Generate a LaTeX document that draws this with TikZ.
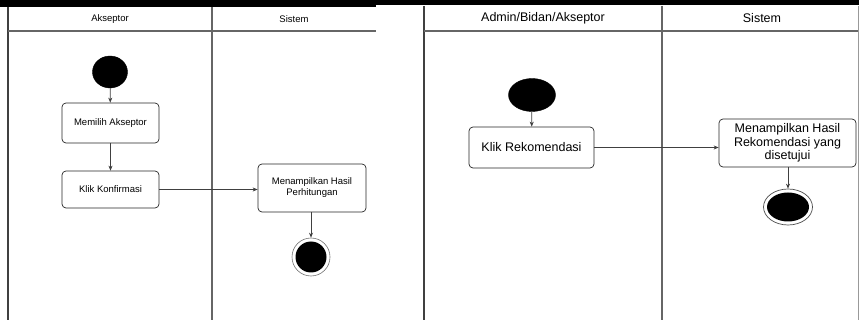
\documentclass[tikz,border=0pt]{standalone}
\usepackage{fontspec}
\setmainfont{Liberation Sans}
\usetikzlibrary{arrows.meta,shapes.geometric}
\begin{document}
\begin{tikzpicture}[x=1pt,y=-1pt,
  frame/.style={draw=black!75,line width=1.3pt},
  lane/.style={draw=black!60,line width=1.2pt},
  actbox/.style={draw=black!85,rounded corners=4pt,line width=0.7pt,align=center,inner sep=0pt},
  startdot/.style={ellipse,fill=black,draw=black,inner sep=0pt},
  flow/.style={draw=black!75,line width=0.7pt,-{Stealth[length=5pt,width=4pt]}},
  lefttxt/.style={font=\fontsize{9.5}{11}\selectfont},
  righttxt/.style={font=\fontsize{12.5}{13.5}\selectfont},
]
\useasboundingbox (0,0) rectangle (859,320);
\fill[white] (0,0) rectangle (859,320);
\fill[black] (0,0) rectangle (859,5.5);
\fill[black] (0,0) rectangle (376,7);
% left swimlane frame
\draw[frame] (8,7) -- (8,320);
\draw[lane] (8,31) -- (376,31);
\draw[lane] (212,7) -- (212,320);
\node[lefttxt] (hA) at (110,19) {Akseptor};
\node[lefttxt] (hS) at (294,19) {Sistem};
% right swimlane frame
\draw[frame] (424,6) -- (424,320);
\draw[lane] (424,31) -- (859,31);
\draw[lane] (662,6) -- (662,320);
\draw[draw=black!40,line width=0.8pt] (858,6) -- (858,320);
\node[righttxt] (hB) at (543,18) {Admin/Bidan/Akseptor};
\node[righttxt] (hS2) at (762,18) {Sistem};
% left diagram
\node[startdot,minimum width=35pt,minimum height=32pt] (s1) at (110,72) {};
\node[actbox,lefttxt,minimum width=97pt,minimum height=40pt] (a1) at (110.5,123) {Memilih Akseptor};
\node[actbox,lefttxt,minimum width=97pt,minimum height=37pt] (a2) at (110.5,189.5) {Klik Konfirmasi};
\node[actbox,lefttxt,minimum width=108pt,minimum height=48pt] (a3) at (312,188) {Menampilkan Hasil\\Perhitungan};
\node[circle,draw=black!55,line width=0.6pt,minimum size=38pt,inner sep=0pt] (e1) at (311,257) {};
\fill[black] (e1.center) circle (15.5pt);
\draw[flow] (s1) -- (a1);
\draw[flow] (a1) -- (a2);
\draw[flow] (a2.east) -- (a3.west |- a2.east);
\draw[flow] (a3.south -| e1.north) -- (e1.north);
% right diagram
\node[startdot,minimum width=47pt,minimum height=33pt] (s2) at (532,95) {};
\node[actbox,righttxt,minimum width=125pt,minimum height=41pt] (b1) at (531.5,147.5) {Klik Rekomendasi};
\node[actbox,righttxt,minimum width=137pt,minimum height=48pt] (b2) at (787.5,143) {Menampilkan Hasil\\Rekomendasi yang\\disetujui};
\node[ellipse,draw=black!70,line width=0.7pt,minimum width=49pt,minimum height=36pt,inner sep=0pt] (e2) at (788,207) {};
\node[ellipse,fill=black,minimum width=42pt,minimum height=29pt,inner sep=0pt] (e2i) at (788,207) {};
\draw[flow] (s2) -- (b1);
\draw[flow] (b1.east) -- (b2.west |- b1.east);
\draw[flow] (b2.south -| e2.north) -- (e2.north);
\end{tikzpicture}
\end{document}
